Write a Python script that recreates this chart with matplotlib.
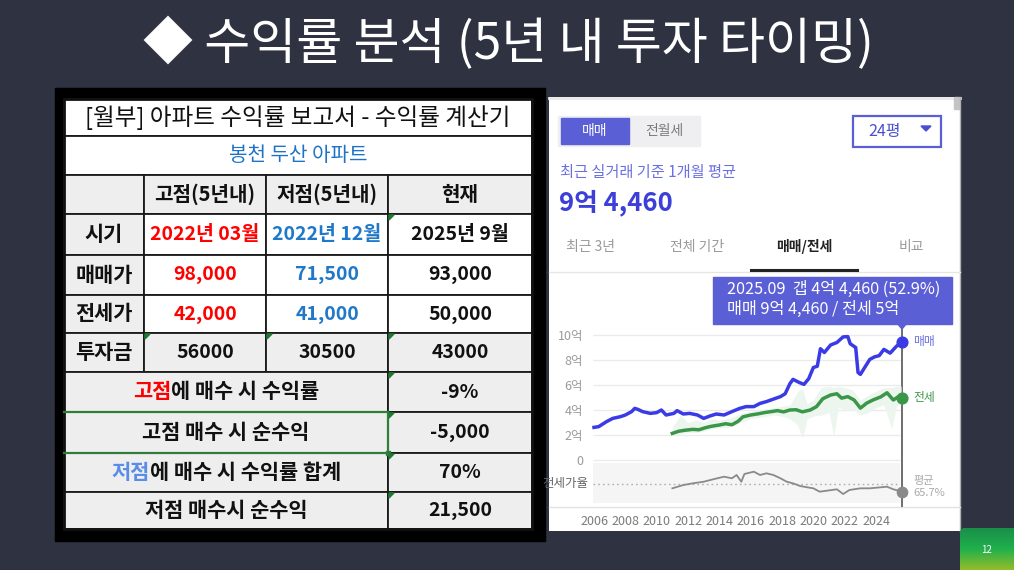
import matplotlib
matplotlib.use('Agg')
import matplotlib.pyplot as plt
from matplotlib.patches import Rectangle, Polygon
import numpy as np

plt.rcParams['font.family'] = ['Noto Sans CJK KR', 'DejaVu Sans']

# ---------------- data ----------------
slide_title = '◆ 수익률 분석 (5년 내 투자 타이밍)'
table_title = '[월부] 아파트 수익률 보고서 - 수익률 계산기'
apt_name = '봉천 두산 아파트'
col_headers = ['고점(5년내)', '저점(5년내)', '현재']
row_labels = ['시기', '매매가', '전세가', '투자금']
periods = ['2022년 03월', '2022년 12월', '2025년 9월']
sale_prices = [98000, 71500, 93000]
jeonse_prices = [42000, 41000, 50000]
investments = [56000, 30500, 43000]
summary_labels = [[('고점', '#ff0000'), ('에 매수 시 수익률', '#111111')],
                  [('고점 매수 시 순수익', '#111111')],
                  [('저점', '#5a8de8'), ('에 매수 시 수익률 합계', '#111111')],
                  [('저점 매수시 순수익', '#111111')]]
summary_values = ['-9%', '-5,000', '70%', '21,500']

sale_years = [2006.0, 2006.3, 2006.8, 2007.2, 2007.7, 2008.0, 2008.4, 2008.6, 2008.8, 2009.1,
              2009.6, 2010.0, 2010.3, 2010.6, 2011.1, 2011.3, 2011.7, 2012.1, 2012.6, 2013.0,
              2013.4, 2013.8, 2014.3, 2014.8, 2015.3, 2015.7, 2016.2, 2016.6, 2017.0, 2017.4,
              2017.9, 2018.2, 2018.5, 2018.7, 2019.1, 2019.4, 2019.7, 2020.0, 2020.25, 2020.45,
              2020.7, 2021.1, 2021.5, 2021.9, 2022.2, 2022.35, 2022.7, 2022.85, 2023.0, 2023.3,
              2023.6, 2023.9, 2024.2, 2024.5, 2024.9, 2025.3, 2025.67]
sale_vals = [2.61, 2.67, 3.07, 3.33, 3.47, 3.60, 3.87, 4.13, 4.05, 3.87,
             3.73, 3.79, 4.00, 3.60, 3.73, 3.95, 3.68, 3.73, 3.60, 3.33,
             3.52, 3.68, 3.60, 3.87, 4.13, 4.27, 4.27, 4.53, 4.67, 4.85,
             5.07, 5.30, 6.10, 6.45, 6.20, 6.05, 6.50, 7.40, 7.50, 8.90,
             8.60, 9.20, 9.40, 9.85, 9.87, 9.30, 9.00, 7.00, 6.85, 7.45,
             8.05, 8.25, 8.35, 8.85, 8.55, 9.10, 9.446]

jeonse_years = [2011.0, 2011.4, 2011.8, 2012.3, 2012.7, 2013.1, 2013.5, 2014.0, 2014.4, 2014.8,
                2015.2, 2015.5, 2016.0, 2016.5, 2016.9, 2017.3, 2017.7, 2018.1, 2018.5, 2018.9,
                2019.3, 2019.8, 2020.2, 2020.6, 2021.1, 2021.5, 2021.8, 2022.2, 2022.6, 2023.0,
                2023.4, 2023.8, 2024.3, 2024.7, 2025.1, 2025.4, 2025.67]
jeonse_vals = [2.13, 2.30, 2.38, 2.45, 2.42, 2.58, 2.70, 2.80, 2.90, 2.82,
               3.10, 3.45, 3.60, 3.70, 3.80, 3.87, 3.95, 3.85, 4.00, 4.02,
               3.85, 4.00, 4.27, 4.90, 5.20, 5.30, 4.95, 5.07, 4.80, 4.15,
               4.55, 4.80, 5.05, 5.38, 4.80, 5.05, 5.00]

band_years = [2011.0, 2011.5, 2012.0, 2012.5, 2013.0, 2013.5, 2014.0, 2014.5, 2015.0, 2015.5,
              2016.0, 2016.5, 2017.0, 2017.5, 2018.0, 2018.5, 2019.0, 2019.3, 2019.6, 2020.0,
              2020.5, 2021.0, 2021.3, 2021.6, 2022.0, 2022.5, 2023.0, 2023.5, 2024.0, 2024.5,
              2025.0, 2025.3, 2025.6]
band_lo = [2.0, 2.1, 2.2, 2.2, 2.3, 2.5, 2.6, 2.6, 2.8, 3.1,
           3.3, 3.4, 3.5, 3.6, 3.5, 3.3, 2.8, 1.7, 3.3, 3.5,
           3.6, 3.8, 1.9, 4.2, 4.0, 4.0, 3.6, 3.8, 4.2, 4.4,
           2.5, 4.3, 4.5]
band_hi = [2.6, 3.6, 3.0, 3.2, 3.0, 3.3, 3.2, 3.3, 3.5, 3.8,
           3.9, 4.0, 4.1, 4.2, 4.3, 4.4, 5.5, 5.7, 4.5, 4.8,
           5.8, 5.9, 5.8, 5.9, 5.8, 5.6, 4.8, 5.2, 5.5, 5.8,
           5.8, 5.9, 5.9]

ratio_years = [2011.0, 2011.7, 2012.3, 2013.0, 2013.6, 2014.3, 2014.8, 2015.1, 2015.4, 2015.6,
               2016.2, 2016.6, 2017.0, 2017.45, 2017.9, 2018.3, 2018.7, 2019.15, 2019.6, 2020.0,
               2020.4, 2020.85, 2021.5, 2021.9, 2022.3, 2023.0, 2023.6, 2024.3, 2024.7, 2025.1,
               2025.67]
ratio_vals = [58.5, 64.0, 66.8, 69.5, 73.5, 77.9, 75.2, 80.7, 69.5, 82.4,
              86.2, 80.7, 83.5, 80.7, 75.2, 69.5, 66.8, 62.4, 60.2, 58.5,
              52.9, 54.5, 56.9, 49.0, 55.7, 58.5, 58.5, 60.2, 61.2, 56.9,
              52.9]
ratio_avg = 65.7

y_ticks = [0, 2, 4, 6, 8, 10]
y_tick_labels = ['0', '2억', '4억', '6억', '8억', '10억']
x_ticks = [2006, 2008, 2010, 2012, 2014, 2016, 2018, 2020, 2022, 2024]

tooltip_lines = ['2025.09  갭 4억 4,460 (52.9%)', '매매 9억 4,460 / 전세 5억']
headline_sub = '최근 실거래 기준 1개월 평균'
headline_value = '9억 4,460'
tabs = ['최근 3년', '전체 기간', '매매/전세', '비교']
size_label = '24평'
page_no = '12'

# ---------------- figure ----------------
W, H = 1014, 570
fig = plt.figure(figsize=(W / 100, H / 100), dpi=100)
fig.patch.set_facecolor('#2e3241')
bg = fig.add_axes([0, 0, 1, 1], zorder=0)
bg.set_xlim(0, W)
bg.set_ylim(H, 0)
bg.axis('off')


def fa(l, t, r, b):
    return [l / W, 1 - b / H, (r - l) / W, (b - t) / H]


def T(x, y, s, size, color='#111111', weight='normal', ha='center', va='center', **kw):
    return bg.text(x, y, s, fontsize=size, color=color, fontweight=weight, ha=ha, va=va, **kw)


renderer = fig.canvas.get_renderer()


def mixed(xc, y, parts, size, weight='bold'):
    ts = [bg.text(0, y, s, color=c, fontsize=size, fontweight=weight, ha='left', va='center',
                  zorder=6) for s, c in parts]
    ws = [t.get_window_extent(renderer).width for t in ts]
    x = xc - sum(ws) / 2
    for t, w in zip(ts, ws):
        t.set_x(x)
        x += w


# slide title
T(508, 45, slide_title, 36, color='white')

# ---------------- table ----------------
bg.add_patch(Rectangle((55, 88), 490, 453, color='black', zorder=1))
cx = [64, 144, 266, 388, 532]
ry = [99, 136, 175, 214, 255, 295, 333, 372, 412, 453, 492, 529]
GRAY = '#eeeeee'


def cell(x0, y0, x1, y1, fc):
    bg.add_patch(Rectangle((x0, y0), x1 - x0, y1 - y0, facecolor=fc, edgecolor='#1a1a1a',
                           lw=1.3, zorder=2))


cell(cx[0], ry[0], cx[4], ry[1], 'white')
cell(cx[0], ry[1], cx[4], ry[2], 'white')
for j in range(4):
    cell(cx[j], ry[2], cx[j + 1], ry[3], GRAY)
for i in range(4):
    cell(cx[0], ry[3 + i], cx[1], ry[4 + i], GRAY)
    for j in range(1, 4):
        cell(cx[j], ry[3 + i], cx[j + 1], ry[4 + i], GRAY if i == 3 else 'white')
for k in range(4):
    cell(cx[0], ry[7 + k], cx[3], ry[8 + k], GRAY)
    cell(cx[3], ry[7 + k], cx[4], ry[8 + k], GRAY)
bg.add_patch(Rectangle((cx[0], ry[0]), cx[4] - cx[0], ry[-1] - ry[0], fill=False,
                       edgecolor='#111111', lw=2, zorder=3))
# excel selection border + green indicators
bg.plot([cx[0], cx[3]], [ry[8], ry[8]], color='#2f7d3a', lw=1.6, zorder=4)
bg.plot([cx[0], cx[3]], [ry[9], ry[9]], color='#2f7d3a', lw=1.6, zorder=4)
bg.plot([cx[3], cx[3]], [ry[8], ry[9]], color='#2f7d3a', lw=1.6, zorder=4)
bg.add_patch(Rectangle((cx[3] - 2, ry[9] - 2), 4, 4, color='#2f7d3a', zorder=5))
for (tx, ty) in [(cx[1], ry[6]), (cx[2], ry[6]), (cx[3], ry[6]), (cx[3], ry[3]),
                 (cx[3], ry[7]), (cx[3], ry[8]), (cx[3], ry[9]), (cx[3], ry[10])]:
    bg.add_patch(Polygon([(tx + 1, ty + 1), (tx + 6, ty + 1), (tx + 1, ty + 6)],
                         color='#1e7a30', zorder=5))

colc = [(cx[j] + cx[j + 1]) / 2 for j in range(4)]
rowc = [(ry[i] + ry[i + 1]) / 2 for i in range(len(ry) - 1)]
T(298, rowc[0], table_title, 17, weight='medium', zorder=6)
T(298, rowc[1], apt_name, 14.5, color='#1f73c6', weight='medium', zorder=6)
for j, h in enumerate(col_headers):
    T(colc[j + 1], rowc[2], h, 14.5, weight='bold', zorder=6)
for i, lab in enumerate(row_labels):
    T(colc[0], rowc[3 + i], lab, 15, weight='bold', zorder=6)
val_colors = ['#ff0000', '#1f78c8', '#111111']
for j in range(3):
    T(colc[j + 1], rowc[3], periods[j], 14, color=val_colors[j], weight='bold', zorder=6)
    T(colc[j + 1], rowc[4], f'{sale_prices[j]:,}', 14, color=val_colors[j], weight='bold', zorder=6)
    T(colc[j + 1], rowc[5], f'{jeonse_prices[j]:,}', 14, color=val_colors[j], weight='bold', zorder=6)
    T(colc[j + 1], rowc[6], str(investments[j]), 14, weight='bold', zorder=6)
for k in range(4):
    mixed((cx[0] + cx[3]) / 2, rowc[7 + k], summary_labels[k], 15)
    T(colc[3], rowc[7 + k], summary_values[k], 14, weight='bold', zorder=6)

# ---------------- right panel ----------------
bg.add_patch(Rectangle((549, 97), 411, 434, facecolor='white', edgecolor='none', zorder=1))
bg.plot([549, 960], [98, 98], color='#e9e9e9', lw=2, zorder=2)
bg.add_patch(Rectangle((954, 97), 5, 12, color='#c4c4c4', zorder=2))
bg.plot([960, 960], [97, 531], color='#b0b0b0', lw=1, zorder=2)
clip = Rectangle((549, 97), 411, 434, transform=bg.transData)

bg.add_patch(Rectangle((558, 116), 142, 30, color='#efeff1', zorder=2))
bg.add_patch(Rectangle((561, 118), 68, 26, color='#5b5fd6', zorder=3))
T(595, 131, '매매', 10, color='white', weight='medium', zorder=4)
T(664, 131, '전월세', 10, color='#7a7a7a', zorder=4)
bg.add_patch(Rectangle((853, 116), 88, 31, facecolor='white', edgecolor='#5b5fd6', lw=1.6, zorder=3))
T(885, 131.5, size_label, 11.5, color='#4a4fd0', zorder=4)
bg.add_patch(Polygon([(921, 126), (931, 126), (926, 131)], color='#4a4fd0', zorder=4))
T(560, 173, headline_sub, 11, color='#6b6fe0', ha='left', zorder=4)
T(559, 203, headline_value, 18.5, color='#3c3fd8', weight='bold', ha='left', zorder=4)
for s, x in zip(tabs, [590, 697, 804, 911]):
    if s == '매매/전세':
        T(x, 247, s, 10, color='#222222', weight='bold', zorder=4)
    else:
        T(x, 247, s, 10, color='#999999', zorder=4)
bg.plot([549, 960], [271.5, 271.5], color='#e6e6e6', lw=1, zorder=2)
bg.plot([751, 857], [269.5, 269.5], color='#222222', lw=2.2, zorder=3)

# tooltip
bg.add_patch(Rectangle((713, 277), 239, 47, color='#5b5fd6', zorder=6))
bg.add_patch(Polygon([(897, 323), (907, 323), (902, 329)], color='#5b5fd6', zorder=6))
T(727, 289.5, tooltip_lines[0], 11.7, color='white', ha='left', zorder=7)
T(727, 309.5, tooltip_lines[1], 11.7, color='white', ha='left', zorder=7)

# marker line & separator
bg.plot([902, 902], [324, 506], color='#6e6e6e', lw=1.4, zorder=3)
bg.plot([549, 960], [506.5, 506.5], color='#e2e2e2', lw=1, zorder=2)

# chart axes
PXY, X06 = 15.67, 594
xl, xr = 2006 + (588 - X06) / PXY, 2006 + (905 - X06) / PXY
gx0, gx1 = 2006 + (593 - X06) / PXY, 2006 + (900 - X06) / PXY
ax = fig.add_axes(fa(588, 325, 905, 462), zorder=4)
ax.set_xlim(xl, xr)
ax.set_ylim((460 - 462) / 12.5, (460 - 325) / 12.5)
ax.patch.set_alpha(0)
for sp in ax.spines.values():
    sp.set_visible(False)
ax.set_xticks([])
ax.set_yticks(y_ticks)
ax.set_yticklabels(y_tick_labels, color='#9a9a9a', fontsize=9)
ax.tick_params(axis='y', length=0, pad=3.6)
ax.hlines(y_ticks, gx0, gx1, color='#ebebeb', lw=1, zorder=0)
ax.fill_between(band_years, band_lo, band_hi, color='#edf6ee', lw=0, zorder=1)
ax.plot(sale_years, sale_vals, color='#3b3be6', lw=2.5, solid_joinstyle='round', zorder=3)
ax.plot(jeonse_years, jeonse_vals, color='#3a9648', lw=2.5, solid_joinstyle='round', zorder=3)
ax.scatter([sale_years[-1]], [sale_vals[-1]], s=60, color='#3b3be6', zorder=5, clip_on=False)
ax.scatter([jeonse_years[-1]], [jeonse_vals[-1]], s=60, color='#3a9648', zorder=5, clip_on=False)

axr = fig.add_axes(fa(588, 463, 905, 503), zorder=4)
axr.set_xlim(xl, xr)
axr.set_ylim(ratio_avg + (484 - 503) / 0.6, ratio_avg + (484 - 463) / 0.6)
axr.patch.set_alpha(0)
for sp in axr.spines.values():
    sp.set_visible(False)
axr.axvspan(gx0, gx1, color='#f5f5f5', lw=0, zorder=0)
axr.hlines(ratio_avg, gx0, gx1, color='#b0b0b0', lw=1, linestyles=(0, (1.2, 2.2)), zorder=1)
axr.plot(ratio_years, ratio_vals, color='#8a8a8a', lw=1.3, zorder=3)
axr.scatter([ratio_years[-1]], [ratio_vals[-1]], s=55, color='#8a8a8a', zorder=5, clip_on=False)
axr.set_yticks([])
axr.set_xticks(x_ticks)
axr.set_xticklabels([str(v) for v in x_ticks], color='#7a7a7a', fontsize=9)
axr.tick_params(axis='x', length=0, pad=8.5)

# side labels
T(913, 342, '매매', 8.5, color='#6b6fe0', ha='left', zorder=4)
T(913, 398, '전세', 8.5, color='#3a9648', ha='left', zorder=4)
T(913, 481, '평균', 8, color='#aaaaaa', ha='left', zorder=4)
T(913, 493, f'{ratio_avg}%', 8, color='#aaaaaa', ha='left', zorder=4)
t = T(588, 484, '전세가율', 9, color='#666666', ha='right', zorder=4)
t.set_clip_path(clip)

# page badge
grad = np.linspace(0, 1, 64)[:, None]
cols = np.zeros((64, 1, 3))
top, mid, bot = np.array([0.10, 0.56, 0.29]), np.array([0.13, 0.69, 0.30]), np.array([0.58, 0.74, 0.16])
for i, g in enumerate(grad[:, 0]):
    cols[i, 0] = top + (mid - top) * (g / 0.5) if g < 0.5 else mid + (bot - mid) * ((g - 0.5) / 0.5)
im = bg.imshow(cols, extent=[960, 1014, 570, 528], aspect='auto', zorder=2, interpolation='bilinear')
im.set_clip_path(Polygon([(963, 528), (1014, 528), (1014, 570), (960, 570), (960, 531)],
                         transform=bg.transData))
bg.set_xlim(0, W)
bg.set_ylim(H, 0)
T(987, 550, page_no, 7, color='white', zorder=3)

fig.savefig('out.png', dpi=100, facecolor=fig.get_facecolor())
